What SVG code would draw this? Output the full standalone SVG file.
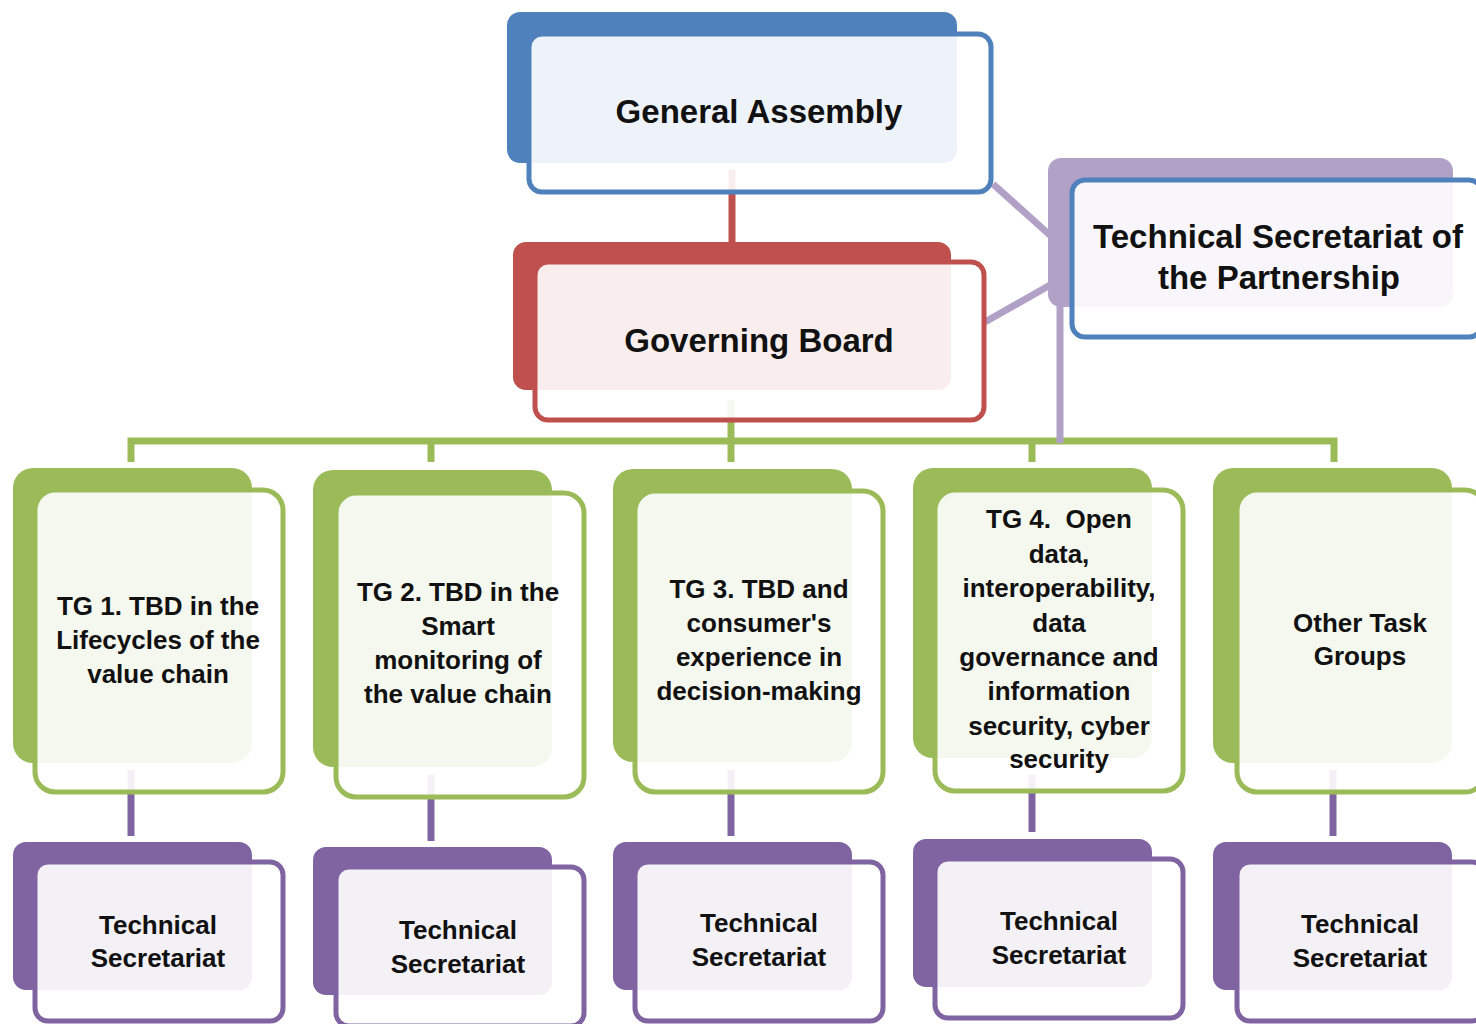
<svg xmlns="http://www.w3.org/2000/svg" width="1476" height="1024" viewBox="0 0 1476 1024">
<style>
.front{fill:#fff;fill-opacity:0.9;stroke-width:5}
.t33{font-family:"Liberation Sans",Arial,sans-serif;font-weight:bold;font-size:33px;fill:#111;text-anchor:middle}
.t26{font-family:"Liberation Sans",Arial,sans-serif;font-weight:bold;font-size:26px;fill:#111;text-anchor:middle}
.blue{fill:#4F81BD}.red{fill:#C0504D}.lav{fill:#B2A1C7}.green{fill:#9BBB59}.purp{fill:#8064A2}
.sb{stroke:#4F81BD}.sr{stroke:#C0504D}.sg{stroke:#9BBB59}.sp{stroke:#8064A2}
.c{fill:none;stroke-width:7}
</style>
<rect width="1476" height="1024" fill="#fff"/>
<g id="connectors">
<line class="c" stroke="#C0504D" x1="732" y1="170" x2="732" y2="245"/>
<polyline class="c" stroke="#9BBB59" stroke-width="7" points="131,462 131,441 1334,441 1334,462"/>
<line class="c" stroke="#9BBB59" x1="431" y1="441" x2="431" y2="462"/>
<line class="c" stroke="#9BBB59" x1="731" y1="400" x2="731" y2="462"/>
<line class="c" stroke="#9BBB59" x1="1032" y1="441" x2="1032" y2="462"/>
<line class="c" stroke="#B2A1C7" stroke-width="6" x1="993" y1="184" x2="1052" y2="237"/>
<line class="c" stroke="#B2A1C7" stroke-width="6" x1="985" y1="322" x2="1052" y2="284"/>
<line class="c" stroke="#B2A1C7" stroke-width="6" x1="1060" y1="300" x2="1060" y2="443"/>
<line class="c" stroke="#8064A2" x1="131" y1="770" x2="131" y2="836"/>
<line class="c" stroke="#8064A2" x1="431" y1="775" x2="431" y2="841"/>
<line class="c" stroke="#8064A2" x1="731" y1="770" x2="731" y2="836"/>
<line class="c" stroke="#8064A2" x1="1032" y1="775" x2="1032" y2="832"/>
<line class="c" stroke="#8064A2" x1="1333" y1="770" x2="1333" y2="836"/>
</g>
<g id="general-assembly">
<rect class="blue" x="507" y="12" width="450" height="151" rx="13"/>
<rect class="front sb" x="529" y="34" width="462" height="158" rx="13"/>
<text class="t33" x="759" y="123">General Assembly</text>
</g>
<g id="tech-secretariat-partnership">
<rect class="lav" x="1048" y="158" width="405" height="149" rx="13"/>
<rect class="front sb" x="1072" y="180" width="410" height="157" rx="13"/>
<text class="t33" x="1278" y="248">Technical Secretariat of</text>
<text class="t33" x="1279" y="289">the Partnership</text>
</g>
<g id="governing-board">
<rect class="red" x="513" y="242" width="438" height="148" rx="13"/>
<rect class="front sr" x="535" y="262" width="449" height="158" rx="13"/>
<text class="t33" x="759" y="352">Governing Board</text>
</g>
<g id="tg1">
<rect class="green" x="13" y="468" width="239" height="295" rx="20"/>
<rect class="front sg" x="35" y="490" width="248" height="302" rx="20"/>
<text class="t26" x="158" y="615">TG 1. TBD in the</text>
<text class="t26" x="158" y="649">Lifecycles of the</text>
<text class="t26" x="158" y="683">value chain</text>
</g>
<g id="tg2">
<rect class="green" x="313" y="470" width="239" height="297" rx="20"/>
<rect class="front sg" x="336" y="493" width="248" height="304" rx="20"/>
<text class="t26" x="458" y="601">TG 2. TBD in the</text>
<text class="t26" x="458" y="635">Smart</text>
<text class="t26" x="458" y="669">monitoring of</text>
<text class="t26" x="458" y="703">the value chain</text>
</g>
<g id="tg3">
<rect class="green" x="613" y="469" width="239" height="293" rx="20"/>
<rect class="front sg" x="635" y="491" width="248" height="301" rx="20"/>
<text class="t26" x="759" y="598">TG 3. TBD and</text>
<text class="t26" x="759" y="632">consumer's</text>
<text class="t26" x="759" y="666">experience in</text>
<text class="t26" x="759" y="700">decision-making</text>
</g>
<g id="tg4">
<rect class="green" x="913" y="468" width="239" height="290" rx="20"/>
<rect class="front sg" x="935" y="490" width="248" height="301" rx="20"/>
<text class="t26" x="1059" y="528" xml:space="preserve" style="white-space:pre">TG 4.  Open</text>
<text class="t26" x="1059" y="563">data,</text>
<text class="t26" x="1059" y="597">interoperability,</text>
<text class="t26" x="1059" y="632">data</text>
<text class="t26" x="1059" y="666">governance and</text>
<text class="t26" x="1059" y="700">information</text>
<text class="t26" x="1059" y="735">security, cyber</text>
<text class="t26" x="1059" y="768">security</text>
</g>
<g id="tg5">
<rect class="green" x="1213" y="468" width="239" height="295" rx="20"/>
<rect class="front sg" x="1237" y="490" width="248" height="302" rx="20"/>
<text class="t26" x="1360" y="632">Other Task</text>
<text class="t26" x="1360" y="665">Groups</text>
</g>
<g id="ts1">
<rect class="purp" x="13" y="842" width="239" height="148" rx="13"/>
<rect class="front sp" x="35" y="862" width="248" height="159" rx="13"/>
<text class="t26" x="158" y="934">Technical</text>
<text class="t26" x="158" y="967">Secretariat</text>
</g>
<g id="ts2">
<rect class="purp" x="313" y="847" width="239" height="148" rx="13"/>
<rect class="front sp" x="336" y="867" width="248" height="159" rx="13"/>
<text class="t26" x="458" y="939">Technical</text>
<text class="t26" x="458" y="973">Secretariat</text>
</g>
<g id="ts3">
<rect class="purp" x="613" y="842" width="239" height="148" rx="13"/>
<rect class="front sp" x="635" y="862" width="248" height="159" rx="13"/>
<text class="t26" x="759" y="932">Technical</text>
<text class="t26" x="759" y="966">Secretariat</text>
</g>
<g id="ts4">
<rect class="purp" x="913" y="839" width="239" height="148" rx="13"/>
<rect class="front sp" x="935" y="859" width="248" height="159" rx="13"/>
<text class="t26" x="1059" y="930">Technical</text>
<text class="t26" x="1059" y="964">Secretariat</text>
</g>
<g id="ts5">
<rect class="purp" x="1213" y="842" width="239" height="148" rx="13"/>
<rect class="front sp" x="1237" y="862" width="248" height="159" rx="13"/>
<text class="t26" x="1360" y="933">Technical</text>
<text class="t26" x="1360" y="967">Secretariat</text>
</g>
</svg>
